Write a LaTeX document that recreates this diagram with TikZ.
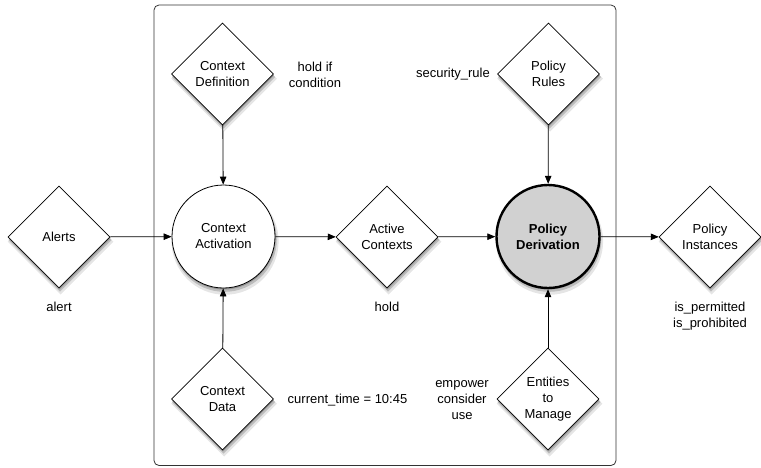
\documentclass[tikz,border=0pt]{standalone}
\usepackage{fontspec}
\setmainfont{Liberation Sans}
\usetikzlibrary{shapes.geometric,arrows.meta,shadows}
\begin{document}
\begin{tikzpicture}[x=1pt,y=-1pt,
  font=\fontsize{13}{16}\selectfont,
  softshadow/.style={
    general shadow={fill=black,opacity=0.10,shadow xshift=1.5pt,shadow yshift=-4.5pt,shadow scale=1.04},
    general shadow={fill=black,opacity=0.18,shadow xshift=1pt,shadow yshift=-3pt,shadow scale=1.015},
    general shadow={fill=black,opacity=0.22,shadow xshift=0.5pt,shadow yshift=-1.5pt}},
  term/.style={diamond,draw=black,line width=0.8pt,fill=white,softshadow,
    minimum width=102pt,minimum height=102pt,inner sep=0pt,align=center},
  process/.style={circle,draw=black,line width=0.8pt,fill=white,softshadow,
    minimum size=103pt,inner sep=0pt,align=center},
  keyprocess/.style={process,line width=2.4pt,fill=black!18,font=\fontsize{13}{16}\selectfont\bfseries},
  note/.style={align=center,inner sep=0pt},
  flow/.style={line width=0.8pt,-{Triangle[length=8pt,width=6.5pt]}}]
\useasboundingbox (0,0) rectangle (761,467);

% enclosing frame
\draw[black!80,line width=0.8pt,rounded corners=5pt] (154,5) rectangle (616,465.5);

% nodes
\node[term] (alerts) at (59,237) {Alerts};
\node[term] (ctxdef) at (222.5,74) {Context\\Definition};
\node[process] (ctxact) at (223.5,236.5) {Context\\Activation};
\node[term] (ctxdata) at (222.5,399) {Context\\Data};
\node[term] (active) at (387,237) {Active\\Contexts};
\node[keyprocess] (derive) at (548,236.5) {Policy\\Derivation};
\node[term] (rules) at (548.5,74) {Policy\\Rules};
\node[term] (entities) at (548,399) {Entities\\to\\Manage};
\node[term] (instances) at (710,237) {Policy\\Instances};

% annotations
\node[note] (nalert) at (59,307) {alert};
\node[note] (nhold) at (387,307) {hold};
\node[note,anchor=north] (ninst) at (710,302) {is\_permitted\\is\_prohibited};
\node[note] (ncond) at (315,75) {hold if\\condition};
\node[note] (nrule) at (453,74) {security\_rule};
\node[note] (ntime) at (347.5,400) {current\_time = 10:45};
\node[note] (nuse) at (462,400) {empower\\consider\\use};

% flows
\draw[flow] (alerts) -- (ctxact);
\draw[flow] (ctxdef) -- (ctxact);
\draw[flow] (ctxdata) -- (ctxact);
\draw[flow] (ctxact) -- (active);
\draw[flow] (active) -- (derive);
\draw[flow] (rules) -- (derive);
\draw[flow] (entities) -- (derive);
\draw[flow] (derive) -- (instances);
\end{tikzpicture}
\end{document}
